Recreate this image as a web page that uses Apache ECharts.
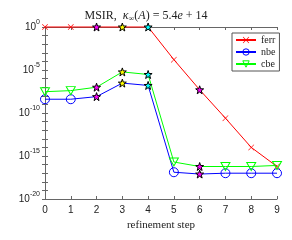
<!DOCTYPE html>
<html><head><meta charset="utf-8">
<script src="https://cdn.jsdelivr.net/npm/echarts@6/dist/echarts.min.js"></script>
<style>html,body{margin:0;padding:0;background:#fff}#c{width:292px;height:240px}</style>
</head><body><div id="c"></div>
<script>
var steps = [0,1,2,3,4,5,6,7,8,9];
var ferr = [1,1,1,1,1,1.6e-4,5e-8,2.5e-11,1e-14,6e-17];
var nbe  = [4e-9,4e-9,8e-9,3e-7,1.6e-7,1.3e-17,8e-18,1e-17,1e-17,1e-17];
var cbe  = [3e-8,4e-8,1e-7,6e-6,3e-6,2e-16,6e-17,6e-17,6e-17,8e-17];
var epsLine = 2.2e-16;
var starIdx = [2,3,4,6];
var starColors = ['#ff00ff','#ffff00','#00ffff','#ff00ff'];
var yMin = 1e-20, yMax = 1;

var STAR = 'path://M0,-10 L2.35,-3.24 L9.51,-3.09 L3.8,1.24 L5.88,8.09 L0,4 L-5.88,8.09 L-3.8,1.24 L-9.51,-3.09 L-2.35,-3.24 Z';
var XMARK = 'path://M0,0.7 L0.7,0 L5,4.3 L9.3,0 L10,0.7 L5.7,5 L10,9.3 L9.3,10 L5,5.7 L0.7,10 L0,9.3 L4.3,5 Z';
var TRI = 'path://M0,0 L10,0 L5,8.66 Z';

function build(vals){
  return vals.map(function(v,i){
    var k = starIdx.indexOf(i);
    var item = {value:[steps[i], v]};
    if (k >= 0) {
      item.symbol = STAR; item.symbolSize = 8;
      item.itemStyle = {color: starColors[k], borderColor:'#000', borderWidth:1};
      item.z = 10;
    }
    return item;
  });
}
var ch = echarts.init(document.getElementById('c'));
var axisCol = '#666';
function ylab(v){
  var e = Math.round(Math.log10(v));
  if (e % 5 !== 0) return '';
  return '{b|10}{s|' + (e===0?'0':e) + '}';
}
ch.setOption({
  animation:false,
  title:{
    text:'{n|MSIR,  }{i|κ}{sub|∞}{n|(}{i|A}{n|) = 5.4}{i|e}{n| + 14}',
    left:'center', top:4,
    textStyle:{fontWeight:'normal',rich:{
      n:{fontFamily:'Liberation Serif',fontSize:12,fontWeight:'normal',color:'#222'},
      i:{fontFamily:'Liberation Serif',fontStyle:'italic',fontWeight:'normal',fontSize:12,color:'#222'},
      sub:{fontFamily:'Liberation Serif',fontSize:8,fontWeight:'normal',color:'#222',padding:[6,0,0,0]}
    }}
  },
  grid:{left:45,right:15,top:27,bottom:41},
  legend:{
    orient:'vertical', left:232, top:33,
    backgroundColor:'#fff', borderColor:'#555', borderWidth:1,
    padding:[2,4,2,3], itemGap:2, itemWidth:20, itemHeight:8,
    itemStyle:{borderWidth:1},
    textStyle:{fontFamily:'Liberation Serif',fontSize:10,color:'#222'},
    data:['ferr','nbe','cbe']
  },
  xAxis:[{
    type:'value', min:0, max:9, interval:1,
    axisLine:{lineStyle:{color:axisCol}},
    axisTick:{inside:true,length:3,lineStyle:{color:axisCol}},
    axisLabel:{fontFamily:'Liberation Sans',fontSize:10,color:'#222',margin:6},
    splitLine:{show:false},
    name:'refinement step', nameLocation:'middle', nameGap:21,
    nameTextStyle:{fontFamily:'Liberation Serif',fontSize:11,color:'#222'}
  },{
    type:'value', min:0, max:9, interval:1, position:'top',
    axisLine:{lineStyle:{color:axisCol}},
    axisTick:{inside:true,length:3,lineStyle:{color:axisCol}},
    axisLabel:{show:false}, splitLine:{show:false}
  }],
  yAxis:[{
    type:'log', logBase:10, min:yMin, max:yMax, interval:1,
    axisLine:{show:true,lineStyle:{color:axisCol}},
    axisTick:{show:true,inside:true,length:3,lineStyle:{color:axisCol}},
    axisLabel:{formatter:ylab, margin:5, rich:{
      b:{fontFamily:'Liberation Sans',fontSize:10,color:'#222'},
      s:{fontFamily:'Liberation Sans',fontSize:7,color:'#222',padding:[0,0,9,0]}
    }},
    splitLine:{show:false}
  },{
    type:'log', logBase:10, min:yMin, max:yMax, interval:1, position:'right',
    axisLine:{show:true,lineStyle:{color:axisCol}},
    axisTick:{show:true,inside:true,length:3,lineStyle:{color:axisCol}},
    axisLabel:{show:false}, splitLine:{show:false}
  }],
  series:[{
    name:'ferr', type:'line', data:build(ferr), clip:false,
    symbol:XMARK, symbolSize:6,
    lineStyle:{color:'#ff0000',width:1},
    itemStyle:{color:'#ff0000'},
    markLine:{silent:true,symbol:'none',label:{show:false},
      lineStyle:{color:'#333',type:[5,3],width:1},
      data:[{yAxis:epsLine}]}
  },{
    name:'nbe', type:'line', data:build(nbe), clip:false,
    symbol:'circle', symbolSize:9,
    lineStyle:{color:'#0000ff',width:1},
    itemStyle:{color:'rgba(255,255,255,0)',borderColor:'#0000ff',borderWidth:1}
  },{
    name:'cbe', type:'line', data:build(cbe), clip:false,
    symbol:TRI, symbolSize:[9,8], symbolRotate:0,
    lineStyle:{color:'#00ff00',width:1},
    itemStyle:{color:'rgba(255,255,255,0)',borderColor:'#00ff00',borderWidth:1}
  }]
});
</script></body></html>
